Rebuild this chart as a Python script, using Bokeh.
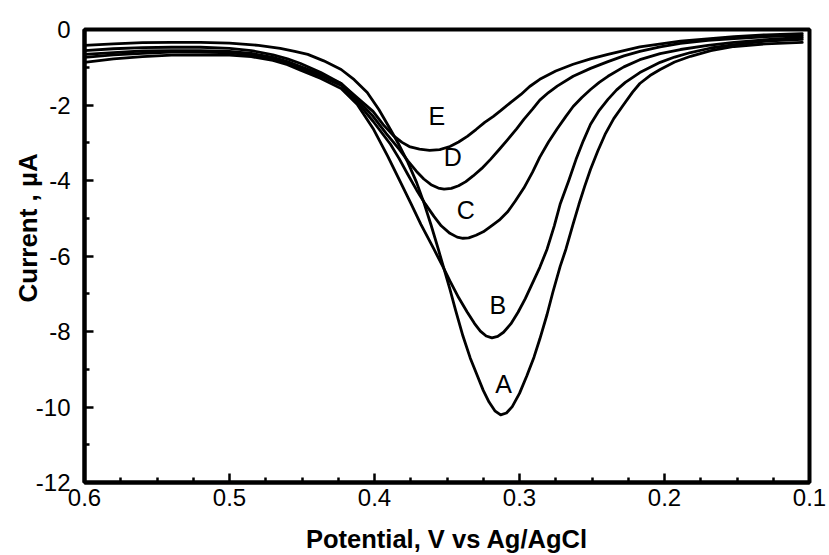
import math
from bokeh.plotting import figure
from bokeh.models import Range1d, FixedTicker, Title
from bokeh.core.properties import value
from bokeh.embed import file_html
from bokeh.resources import INLINE

# ---- data ----
A_x = [0.600, 0.580, 0.560, 0.540, 0.520, 0.500, 0.480, 0.465, 0.455, 0.446, 0.435, 0.423, 0.414,
       0.405, 0.397, 0.389, 0.383, 0.377, 0.371, 0.366, 0.361, 0.356, 0.352, 0.348, 0.344, 0.339,
       0.334, 0.329, 0.325, 0.321, 0.317, 0.313, 0.309, 0.305, 0.300, 0.295, 0.290, 0.286, 0.281,
       0.277, 0.272, 0.268, 0.263, 0.259, 0.255, 0.251, 0.246, 0.241, 0.235, 0.228, 0.222, 0.217,
       0.210, 0.203, 0.193, 0.182, 0.168, 0.152, 0.130, 0.105]
A_y = [-0.42, -0.38, -0.35, -0.34, -0.34, -0.36, -0.42, -0.50, -0.58, -0.66, -0.83, -1.06, -1.33,
       -1.67, -2.12, -2.65, -3.06, -3.52, -4.05, -4.58, -5.18, -5.82, -6.35, -6.88, -7.45, -8.12,
       -8.70, -9.18, -9.56, -9.87, -10.10, -10.21, -10.16, -9.99, -9.64, -9.18, -8.68, -8.20, -7.55,
       -6.96, -6.28, -5.82, -5.15, -4.63, -4.15, -3.70, -3.22, -2.78, -2.36, -1.98, -1.66, -1.43,
       -1.22, -1.06, -0.86, -0.71, -0.56, -0.45, -0.38, -0.34]

B_x = [0.600, 0.580, 0.560, 0.540, 0.520, 0.500, 0.485, 0.470, 0.460, 0.451, 0.437, 0.423, 0.412,
       0.401, 0.391, 0.382, 0.375, 0.368, 0.359, 0.353, 0.348, 0.342, 0.336, 0.331, 0.327, 0.323,
       0.319, 0.315, 0.311, 0.306, 0.301, 0.296, 0.292, 0.286, 0.281, 0.276, 0.272, 0.266, 0.261,
       0.256, 0.251, 0.245, 0.239, 0.233, 0.227, 0.217, 0.203, 0.193, 0.182, 0.168, 0.152, 0.130,
       0.105]
B_y = [-0.87, -0.78, -0.72, -0.68, -0.67, -0.68, -0.72, -0.82, -0.93, -1.08, -1.30, -1.56, -1.98,
       -2.62, -3.35, -4.05, -4.60, -5.16, -5.82, -6.27, -6.66, -7.10, -7.49, -7.79, -7.99, -8.12,
       -8.17, -8.13, -8.02, -7.80, -7.49, -7.13, -6.80, -6.30, -5.82, -5.20, -4.63, -4.00, -3.44,
       -2.95, -2.51, -2.14, -1.85, -1.60, -1.40, -1.14, -0.87, -0.73, -0.61, -0.49, -0.40, -0.31,
       -0.26]

C_x = [0.600, 0.580, 0.560, 0.540, 0.520, 0.500, 0.485, 0.470, 0.460, 0.451, 0.437, 0.423, 0.412,
       0.401, 0.389, 0.383, 0.377, 0.371, 0.365, 0.359, 0.354, 0.348, 0.343, 0.339, 0.335, 0.330,
       0.325, 0.320, 0.314, 0.308, 0.303, 0.297, 0.291, 0.286, 0.280, 0.274, 0.268, 0.263, 0.257,
       0.251, 0.245, 0.239, 0.228, 0.217, 0.203, 0.189, 0.170, 0.152, 0.130, 0.105]
C_y = [-0.74, -0.67, -0.63, -0.60, -0.60, -0.62, -0.67, -0.78, -0.89, -1.03, -1.24, -1.48, -1.92,
       -2.43, -3.04, -3.42, -3.84, -4.25, -4.62, -4.95, -5.20, -5.40, -5.50, -5.53, -5.52, -5.45,
       -5.36, -5.22, -5.05, -4.82, -4.55, -4.20, -3.78, -3.38, -2.98, -2.63, -2.30, -2.04, -1.80,
       -1.59, -1.40, -1.24, -0.99, -0.80, -0.64, -0.53, -0.42, -0.34, -0.27, -0.21]

D_x = [0.600, 0.580, 0.560, 0.540, 0.520, 0.500, 0.485, 0.470, 0.460, 0.451, 0.437, 0.423, 0.412,
       0.401, 0.392, 0.383, 0.377, 0.371, 0.366, 0.361, 0.356, 0.352, 0.347, 0.342, 0.337, 0.332,
       0.326, 0.320, 0.314, 0.308, 0.302, 0.297, 0.291, 0.286, 0.280, 0.274, 0.263, 0.251, 0.239,
       0.228, 0.217, 0.203, 0.189, 0.170, 0.152, 0.130, 0.105]
D_y = [-0.66, -0.61, -0.57, -0.56, -0.56, -0.58, -0.63, -0.74, -0.85, -0.98, -1.19, -1.43, -1.85,
       -2.30, -2.75, -3.17, -3.48, -3.76, -3.96, -4.11, -4.20, -4.23, -4.21, -4.14, -4.03, -3.88,
       -3.68, -3.44, -3.18, -2.91, -2.63, -2.38, -2.11, -1.87, -1.67, -1.50, -1.24, -1.03, -0.85,
       -0.70, -0.58, -0.46, -0.37, -0.29, -0.24, -0.19, -0.16]

E_x = [0.600, 0.580, 0.560, 0.540, 0.520, 0.500, 0.485, 0.470, 0.460, 0.451, 0.437, 0.423, 0.412,
       0.401, 0.394, 0.387, 0.381, 0.376, 0.369, 0.362, 0.355, 0.348, 0.342, 0.336, 0.330, 0.324,
       0.318, 0.313, 0.306, 0.299, 0.293, 0.286, 0.275, 0.263, 0.251, 0.239, 0.217, 0.189, 0.152,
       0.130, 0.105]
E_y = [-0.56, -0.51, -0.48, -0.47, -0.47, -0.50, -0.56, -0.67, -0.78, -0.90, -1.14, -1.43, -1.80,
       -2.17, -2.52, -2.81, -2.99, -3.10, -3.17, -3.20, -3.18, -3.10, -2.98, -2.83, -2.65, -2.46,
       -2.30, -2.15, -1.93, -1.72, -1.51, -1.32, -1.10, -0.92, -0.78, -0.66, -0.46, -0.31, -0.19,
       -0.14, -0.11]

label_text = ["A", "B", "C", "D", "E"]
label_x = [0.311, 0.315, 0.337, 0.346, 0.357]
label_y = [-9.39, -7.30, -4.79, -3.39, -2.30]

x_major_ticks = [0.6, 0.5, 0.4, 0.3, 0.2, 0.1]
x_tick_labels = ["0.6", "0.5", "0.4", "0.3", "0.2", "0.1"]
x_minor_ticks = [0.575, 0.55, 0.525, 0.475, 0.45, 0.425, 0.375, 0.35, 0.325,
                 0.275, 0.25, 0.225, 0.175, 0.15, 0.125]
y_major_ticks = [0, -2, -4, -6, -8, -10, -12]
y_tick_labels = ["0", "-2", "-4", "-6", "-8", "-10", "-12"]
y_minor_ticks = [-1, -3, -5, -7, -9, -11]

x_title = "Potential, V vs Ag/AgCl"
y_title = "Current , \u00b5A"

FONT = "Liberation Sans"

p = figure(width=829, height=555, output_backend="svg", toolbar_location=None,
           x_range=Range1d(0.6, 0.1), y_range=Range1d(-12, 0),
           min_border_left=84, min_border_right=20, min_border_top=29, min_border_bottom=72,
           background_fill_color="white", border_fill_color="white")

p.xgrid.visible = False
p.ygrid.visible = False
p.outline_line_color = "black"
p.outline_line_width = 4

for ax in (p.xaxis[0], p.yaxis[0]):
    ax.axis_line_width = 4
    ax.axis_line_color = "black"
    ax.major_tick_in = 9
    ax.major_tick_out = 0
    ax.minor_tick_in = 5
    ax.minor_tick_out = 0
    ax.major_tick_line_width = 2.5
    ax.minor_tick_line_width = 2.5
    ax.major_tick_line_color = "black"
    ax.minor_tick_line_color = "black"
    ax.major_label_text_font = FONT
    ax.major_label_text_font_size = "24px"
    ax.major_label_text_color = "black"

p.xaxis[0].ticker = FixedTicker(ticks=x_major_ticks, minor_ticks=x_minor_ticks)
p.yaxis[0].ticker = FixedTicker(ticks=y_major_ticks, minor_ticks=y_minor_ticks)
p.xaxis[0].major_label_overrides = dict(zip(x_major_ticks, x_tick_labels))
p.yaxis[0].major_label_overrides = dict(zip(y_major_ticks, y_tick_labels))
p.xaxis[0].major_label_standoff = 6
p.yaxis[0].major_label_standoff = 14

p.xaxis[0].axis_label = x_title
p.xaxis[0].axis_label_text_font = FONT
p.xaxis[0].axis_label_text_font_size = "25.5px"
p.xaxis[0].axis_label_text_font_style = "bold"
p.xaxis[0].axis_label_text_color = "black"
p.xaxis[0].axis_label_standoff = 16

for xs, ys in ((A_x, A_y), (B_x, B_y), (C_x, C_y), (D_x, D_y), (E_x, E_y)):
    p.line(xs, ys, line_color="black", line_width=2.8, line_join="round", line_cap="round")

p.text(x=label_x, y=label_y, text=label_text, text_align="center", text_baseline="middle",
       text_font=value(FONT), text_font_size="25px", text_color="black")

yt = Title(text=y_title, align="left", offset=180, text_font=FONT, text_font_size="26px",
           text_font_style="bold", text_color="black")
try:
    yt.standoff = -20
except Exception:
    yt.standoff = 0
p.add_layout(yt, "left")

open("out.html", "w").write(file_html(p, INLINE))
